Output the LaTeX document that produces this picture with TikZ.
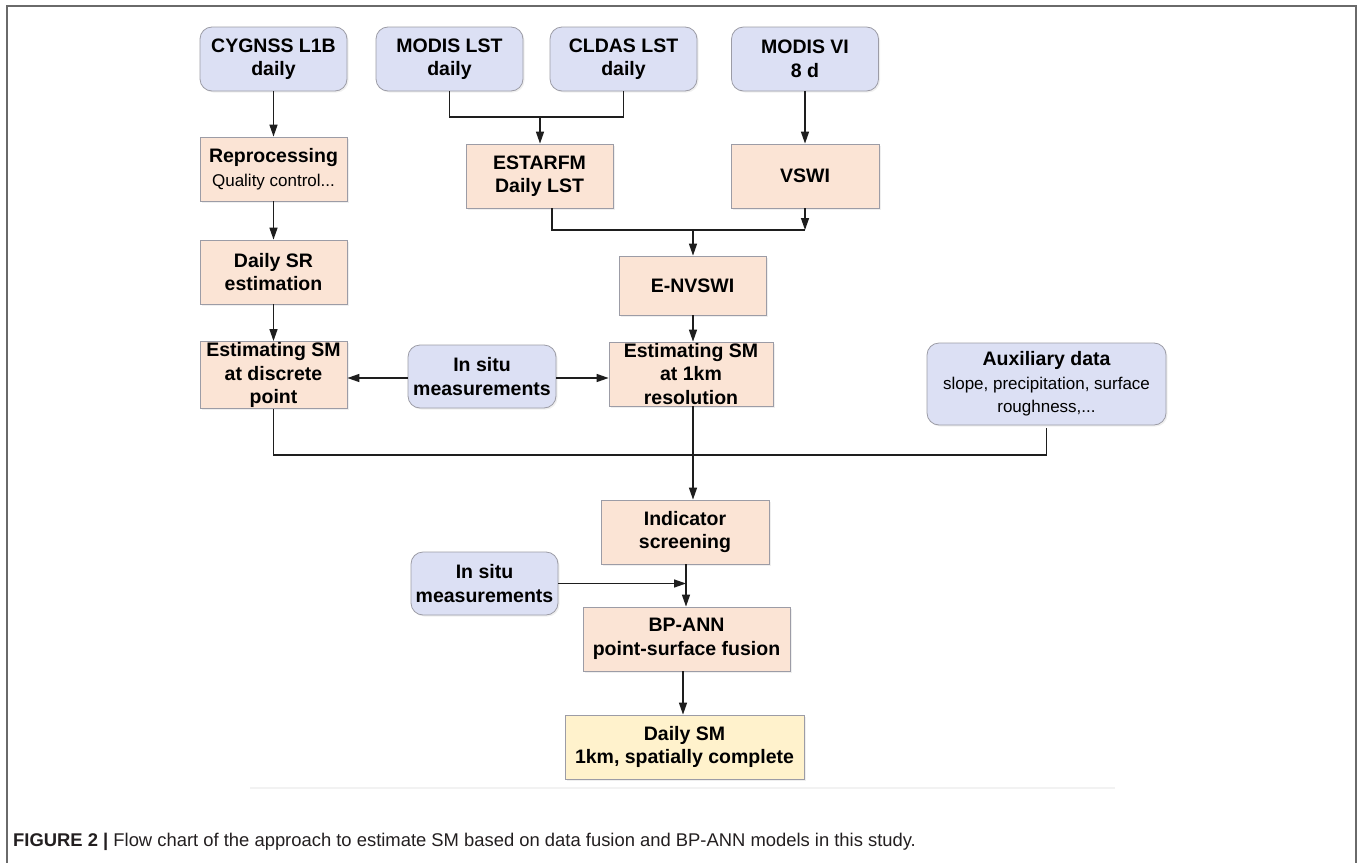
\documentclass[tikz,border=0pt]{standalone}
\usepackage{fontspec}
\setmainfont{Liberation Sans}
\usetikzlibrary{arrows.meta,shadows,calc}
\definecolor{bluefill}{HTML}{DCE0F4}
\definecolor{orfill}{HTML}{FBE4D5}
\definecolor{yelfill}{HTML}{FFF2CC}
\definecolor{bordergray}{HTML}{9C9CA6}
\definecolor{linecol}{HTML}{1E1E1E}
\definecolor{framecol}{HTML}{6A6A6A}
\definecolor{captext}{HTML}{231F20}
\newcommand\bfnt{\fontsize{19.5}{23.5}\selectfont\bfseries}
\newcommand\rgnt{\fontsize{17}{21.5}\selectfont\mdseries}
\newcommand\capfnt{\fontsize{18.4}{21}\selectfont}
\tikzset{
  basebox/.style={draw=bordergray, line width=0.8pt, minimum height=64pt, inner sep=1pt,
    align=center, font=\bfnt, text=black,
    drop shadow={opacity=0.12, shadow xshift=1.5pt, shadow yshift=-1.5pt}},
  databox/.style={basebox, fill=bluefill, rounded corners=12pt},
  procbox/.style={basebox, fill=orfill},
  finalbox/.style={basebox, fill=yelfill},
  conn/.style={draw=linecol, line width=1.4pt},
  arr/.style={conn, -{Triangle[length=12pt,width=8pt]}}
}
\begin{document}
\begin{tikzpicture}[x=1pt,y=-1pt]
\useasboundingbox (0,0) rectangle (1362,862);
\fill[white] (0,0) rectangle (1362,862);
% frame
\draw[framecol, line width=1.2pt] (7,880) -- (7,6) -- (1356,6) -- (1356,880);

% top row
\node[databox, minimum width=147pt] (cyg)  at (273.5,59) {CYGNSS L1B\\daily};
\node[databox, minimum width=147pt] (mlst) at (449.5,59) {MODIS LST\\daily};
\node[databox, minimum width=147pt] (clst) at (623.5,59) {CLDAS LST\\daily};
\node[databox, minimum width=147pt] (mvi)  at (805,59)   {MODIS VI\\8 d};

% second row
\node[procbox, minimum width=147pt] (rep)  at (273.5,169) {Reprocessing\\{\rgnt Quality control...}};
\node[procbox, minimum width=147pt] (est)  at (539.5,176) {ESTARFM\\Daily LST};
\node[procbox, minimum width=148pt] (vswi) at (805,176)   {VSWI};

% third row
\node[procbox, minimum width=147pt] (dsr) at (273.5,272) {Daily SR\\estimation};
\node[procbox, minimum width=147pt, minimum height=59pt] (env) at (692.5,285.5) {E-NVSWI};

% fourth row
\node[procbox, minimum width=147pt] (disc) at (273.5,375) {Estimating SM\\at discrete\\point};
\node[databox, minimum width=148pt, minimum height=63pt] (ins1) at (482,376.5) {In situ\\measurements};
\node[procbox, minimum width=164pt] (km) at (691,374) {Estimating SM\\at 1km\\resolution};
\node[databox, minimum width=239pt, minimum height=82pt] (aux) at (1046.5,384)
  {Auxiliary data\\{\rgnt slope, precipitation, surface}\\{\rgnt roughness,...}};

% lower part
\node[procbox, minimum width=168pt] (ind) at (685,532) {Indicator\\screening};
\node[databox, minimum width=147pt, minimum height=63pt] (ins2) at (484.5,583.5) {In situ\\measurements};
\node[procbox, minimum width=207pt] (bp) at (686.5,639) {BP-ANN\\point-surface fusion};
\node[finalbox, minimum width=239pt] (fin) at (684.5,747) {Daily SM\\1km, spatially complete};

% junction coordinates
\coordinate (jL) at (540,117);
\coordinate (jE) at (693,230);
\coordinate (jB) at (693,455);
\coordinate (jI) at (686,583);

% connectors
\draw[arr] (cyg) -- (rep);
\draw[arr] (rep) -- (dsr);
\draw[arr] (dsr) -- (disc);
\draw[conn] (mlst.south) -- (mlst.south |- jL) -- (clst.south |- jL) -- (clst.south);
\draw[arr] (jL) -- (jL |- est.north);
\draw[arr] (mvi) -- (vswi);
\draw[conn] ([xshift=12.5pt]est.south) |- (vswi.south |- jE);
\draw[arr] (vswi.south) -- (vswi.south |- jE);
\draw[arr] (jE) -- (jE |- env.north);
\draw[arr] (jE |- env.south) -- (jE |- km.north);
\draw[arr] ([yshift=-1.5pt]ins1.west) -- ([yshift=-1.5pt]ins1.west -| disc.east);
\draw[arr] ([yshift=-1.5pt]ins1.east) -- ([yshift=-1.5pt]ins1.east -| km.west);
\draw[conn] (disc.south) |- (aux.south |- jB) -- ([yshift=-3pt]aux.south);
\draw[arr] (jB |- km.south) -- (jB |- ind.north);
\draw[arr] (jI |- ind.south) -- (jI |- bp.north);
\draw[arr] (ins2.east) -- (ins2.east -| jI);
\draw[arr] ([xshift=-3.5pt]bp.south) -- ([xshift=-3.5pt]bp.south |- fin.north);

% faint artefact line
\draw[black!5, line width=2pt] (250,788) -- (1115,788);

% caption
\node[anchor=west, inner sep=0pt, text=captext, font=\capfnt] (cap) at (13,842)
  {\textbf{FIGURE 2 |} Flow chart of the approach to estimate SM based on data fusion and BP-ANN models in this study.};
\end{tikzpicture}
\end{document}
